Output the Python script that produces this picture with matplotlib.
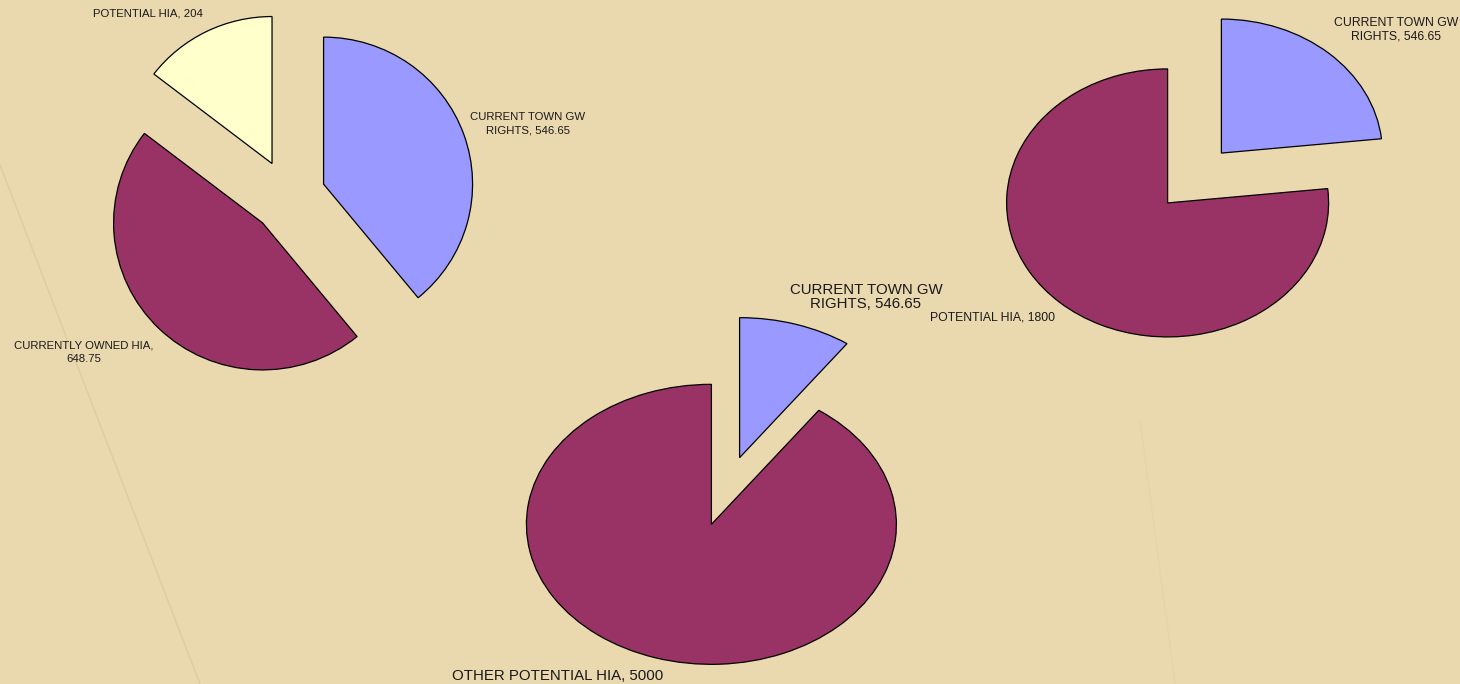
import matplotlib.pyplot as plt
from matplotlib.lines import Line2D

# --- data -------------------------------------------------------------------
# pie 1 (top left)
names_1 = ["CURRENT TOWN GW\nRIGHTS", "CURRENTLY OWNED HIA", "POTENTIAL HIA"]
values_1 = [546.65, 648.75, 204]
colors_1 = ["#9999FF", "#993366", "#FFFFCC"]

# pie 2 (bottom middle)
names_2 = ["CURRENT TOWN GW\nRIGHTS", "OTHER POTENTIAL HIA"]
values_2 = [546.65, 5000]
colors_2 = ["#9999FF", "#993366"]

# pie 3 (top right)
names_3 = ["CURRENT TOWN GW\nRIGHTS", "POTENTIAL HIA"]
values_3 = [546.65, 1800]
colors_3 = ["#9999FF", "#993366"]

W, H = 1460, 684
BG = "#EAD8AF"

plt.rcParams['font.family'] = ['Liberation Sans', 'DejaVu Sans']

fig = plt.figure(figsize=(W / 100, H / 100), dpi=100)
fig.patch.set_facecolor(BG)

# faint creases in the paper background
for (x0, y0, x1, y1, a) in [(0, 165, 200, 684, 0.18), (1140, 420, 1175, 684, 0.06)]:
    fig.add_artist(Line2D([x0 / W, x1 / W], [1 - y0 / H, 1 - y1 / H],
                          color="#B89C6E", lw=1.2, alpha=a))


def draw_pie(values, colors, cx, cy, rx, ry):
    """Exploded pie, centre (cx, cy) and radii in pixels (y from top)."""
    lim = 1.5
    ax = fig.add_axes([(cx - lim * rx) / W, (H - cy - lim * ry) / H,
                       2 * lim * rx / W, 2 * lim * ry / H])
    ax.pie(values, colors=colors, explode=[0.25] * len(values), startangle=90,
           counterclock=False, radius=1,
           wedgeprops=dict(edgecolor="black", linewidth=0.9))
    ax.set_aspect("auto")
    ax.set_xlim(-lim, lim)
    ax.set_ylim(-lim, lim)
    ax.set_axis_off()
    return ax


def put_label(name, value, x, y, size, sep=", ", ls=1.2):
    fig.text(x / W, 1 - y / H, f"{name}{sep}{value:g}", ha="center", va="center",
             fontsize=size, color="#1a1a1a", linespacing=ls)


draw_pie(values_1, colors_1, 288.5, 196.5, 149, 147)
draw_pie(values_2, colors_2, 725.5, 491, 185, 140)
draw_pie(values_3, colors_3, 1194.5, 178, 161, 134)

# labels pie 1
put_label(names_1[0], values_1[0], 528, 124, 8.2, ls=1.45)
put_label(names_1[1], values_1[1], 84, 352, 8.2, sep=",\n", ls=1.45)
put_label(names_1[2], values_1[2], 148, 13, 8.2)

# labels pie 2
put_label(names_2[0], values_2[0], 866, 297, 10.8, ls=1.05)
put_label(names_2[1], values_2[1], 558, 676, 10.8)

# labels pie 3
put_label(names_3[0], values_3[0], 1396, 29.5, 8.8, ls=1.2)
put_label(names_3[1], values_3[1], 992, 317, 8.8)

fig.savefig("out.png", dpi=100, facecolor=BG)
